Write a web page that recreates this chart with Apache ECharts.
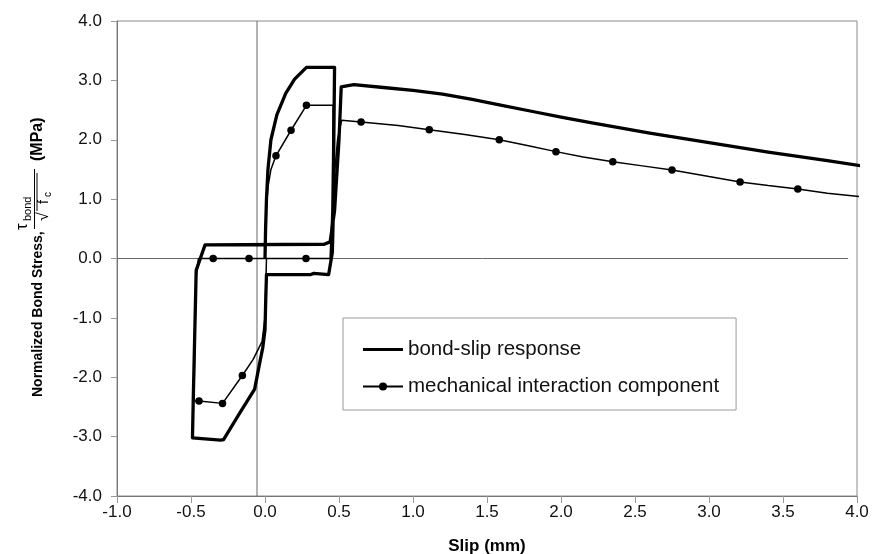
<!DOCTYPE html>
<html>
<head>
<meta charset="utf-8">
<script src="https://cdn.jsdelivr.net/npm/echarts@6/dist/echarts.min.js"></script>
<style>
html,body{margin:0;padding:0;background:#fff;}
#chart{width:872px;height:554px;}
</style>
</head>
<body>
<div id="chart"></div>
<script>
// ---- data ----
var xTicks = [-1.0, -0.5, 0.0, 0.5, 1.0, 1.5, 2.0, 2.5, 3.0, 3.5, 4.0];
var yTicks = [-4.0, -3.0, -2.0, -1.0, 0.0, 1.0, 2.0, 3.0, 4.0];
var seriesNames = ['bond-slip response', 'mechanical interaction component'];

// bond-slip response: [slip (mm), normalized bond stress]
var bondSlip = [
  [0.0,0.0],[0.004,0.5],[0.01,1.0],[0.02,1.5],[0.04,2.0],[0.08,2.42],[0.14,2.78],[0.2,3.02],[0.28,3.22],
  [0.47,3.22],[0.465,2.0],[0.46,0.6],[0.455,0.1],[0.43,-0.27],[0.33,-0.25],[0.31,-0.27],[0.01,-0.27],
  [0.005,-0.7],[0.0,-1.2],[-0.015,-1.5],[-0.035,-1.75],[-0.07,-2.2],[-0.17,-2.6],[-0.28,-3.05],[-0.3,-3.06],
  [-0.49,-3.02],[-0.485,-2.4],[-0.465,-0.2],[-0.405,0.23],[0.4,0.24],[0.44,0.28],[0.47,0.8],[0.5,2.0],
  [0.515,2.89],[0.6,2.93],[0.8,2.88],[1.0,2.83],[1.2,2.77],[1.4,2.68],[1.6,2.58],[1.8,2.48],[2.0,2.38],
  [2.2,2.29],[2.4,2.2],[2.6,2.11],[2.8,2.03],[3.0,1.95],[3.2,1.87],[3.4,1.79],[3.6,1.72],[3.8,1.65],[4.03,1.56]
];

// mechanical interaction component: [slip, stress, marker(1) or not(0)]
var mechanical = [
  [0.0,0.0,0],[0.005,0.7,0],[0.02,1.2,0],[0.04,1.5,0],[0.074,1.73,1],[0.176,2.16,1],[0.28,2.58,1],
  [0.46,2.58,0],[0.455,1.2,0],[0.45,0.3,0],[0.44,0.0,0],[0.277,0.0,1],[0.01,0.0,0],[0.005,-0.5,0],
  [0.0,-1.0,0],[-0.02,-1.4,0],[-0.08,-1.7,0],[-0.153,-1.97,1],[-0.287,-2.44,1],[-0.446,-2.40,1],
  [-0.48,-2.40,0],[-0.475,-1.5,0],[-0.465,-0.3,0],[-0.45,0.0,0],[-0.35,0.0,1],[-0.108,0.0,1],[0.44,0.0,0],
  [0.455,1.0,0],[0.49,2.0,0],[0.518,2.33,0],[0.649,2.30,1],[0.9,2.24,0],[1.11,2.17,1],[1.35,2.09,0],
  [1.583,2.0,1],[1.78,1.9,0],[1.966,1.80,1],[2.15,1.71,0],[2.35,1.63,1],[2.55,1.56,0],[2.75,1.49,1],
  [3.0,1.38,0],[3.21,1.29,1],[3.4,1.23,0],[3.6,1.17,1],[3.8,1.1,0],[4.03,1.04,0]
];

// reference lines drawn in the original chart
var zeroLine = [[-1.0,0.0],[3.94,0.0]];
var vertLine = [[-0.054,-4.0],[-0.054,4.0]];

// ---- chart ----
var FONT = '"Liberation Sans", Arial, Helvetica, sans-serif';
var chart = echarts.init(document.getElementById('chart'), null, {renderer:'canvas'});

var mechData = mechanical.map(function(p){
  return p[2] ? {value:[p[0],p[1]]} : {value:[p[0],p[1]], symbol:'none'};
});

var option = {
  backgroundColor:'#fff',
  animation:false,
  grid:{left:117, right:15, top:21, bottom:58, containLabel:false, outerBoundsMode:'none',
        show:true, borderColor:'#8a8a8a', borderWidth:1, backgroundColor:'transparent'},
  xAxis:{
    type:'value', min:xTicks[0], max:xTicks[xTicks.length-1], interval:0.5,
    name:'Slip (mm)', nameLocation:'middle', nameGap:42,
    nameTextStyle:{fontFamily:FONT, fontSize:17, fontWeight:'bold', color:'#000'},
    axisLine:{show:true, onZero:false, lineStyle:{color:'#777', width:1}},
    axisTick:{show:true, inside:false, length:7, lineStyle:{color:'#999'}},
    axisLabel:{fontFamily:FONT, fontSize:17, color:'#111', margin:8, formatter:function(v){return v.toFixed(1);}},
    splitLine:{show:false}
  },
  yAxis:{
    type:'value', min:yTicks[0], max:yTicks[yTicks.length-1], interval:1,
    axisLine:{show:true, onZero:false, lineStyle:{color:'#777', width:1}},
    axisTick:{show:true, inside:false, length:6, lineStyle:{color:'#999'}},
    axisLabel:{fontFamily:FONT, fontSize:17, color:'#111', margin:15, formatter:function(v){return v.toFixed(1);}},
    splitLine:{show:false}
  },
  legend:{
    left:343, top:318, orient:'vertical',
    data:[
      {name:seriesNames[0], icon:'path://M0,0h40v3h-40z'},
      {name:seriesNames[1]}
    ],
    itemWidth:40, itemHeight:10, itemGap:16,
    padding:[21,17,13,19],
    borderColor:'#999', borderWidth:1, backgroundColor:'#fff',
    textStyle:{fontFamily:FONT, fontSize:20.5, color:'#111'},
    selectedMode:false
  },
  series:[
    {type:'line', data:zeroLine, symbol:'none', silent:true, lineStyle:{color:'#666', width:1}, z:1},
    {type:'line', data:vertLine, symbol:'none', silent:true, lineStyle:{color:'#666', width:1}, z:1},
    {name:seriesNames[0], type:'line', data:bondSlip, symbol:'none', clip:false, color:'#000',
     lineStyle:{color:'#000', width:3.3, join:'round'}, z:3},
    {name:seriesNames[1], type:'line', data:mechData, symbol:'circle', symbolSize:7.5, showAllSymbol:true,
     clip:false, color:'#000', itemStyle:{color:'#000'}, lineStyle:{color:'#000', width:1.5}, z:4}
  ],
  graphic:[{
    type:'group', x:38, y:397, rotation:Math.PI/2,
    children:[
      {type:'text', x:0, y:0, style:{text:'Normalized Bond Stress,', font:'bold 14px '+FONT, fill:'#000', textAlign:'left', textVerticalAlign:'middle'}},
      {type:'text', x:167, y:-16, style:{text:'\u03c4', font:'17px '+FONT, fill:'#000', textAlign:'left', textVerticalAlign:'middle'}},
      {type:'text', x:176, y:-10, style:{text:'bond', font:'11px '+FONT, fill:'#000', textAlign:'left', textVerticalAlign:'middle'}},
      {type:'line', shape:{x1:168, y1:-3.5, x2:228, y2:-3.5}, style:{stroke:'#000', lineWidth:1}},
      {type:'text', x:176, y:6, style:{text:'\u221a', font:'16px '+FONT, fill:'#000', textAlign:'left', textVerticalAlign:'middle'}},
      {type:'line', shape:{x1:186, y1:-1, x2:224, y2:-1}, style:{stroke:'#000', lineWidth:1}},
      {type:'text', x:193, y:6, style:{text:'f', font:'14px '+FONT, fill:'#000', textAlign:'left', textVerticalAlign:'middle'}},
      {type:'text', x:200, y:10, style:{text:'c', font:'10px '+FONT, fill:'#000', textAlign:'left', textVerticalAlign:'middle'}},
      {type:'text', x:236, y:0, style:{text:'(MPa)', font:'bold 16px '+FONT, fill:'#000', textAlign:'left', textVerticalAlign:'middle'}}
    ]
  }]
};
chart.setOption(option);
</script>
</body>
</html>
